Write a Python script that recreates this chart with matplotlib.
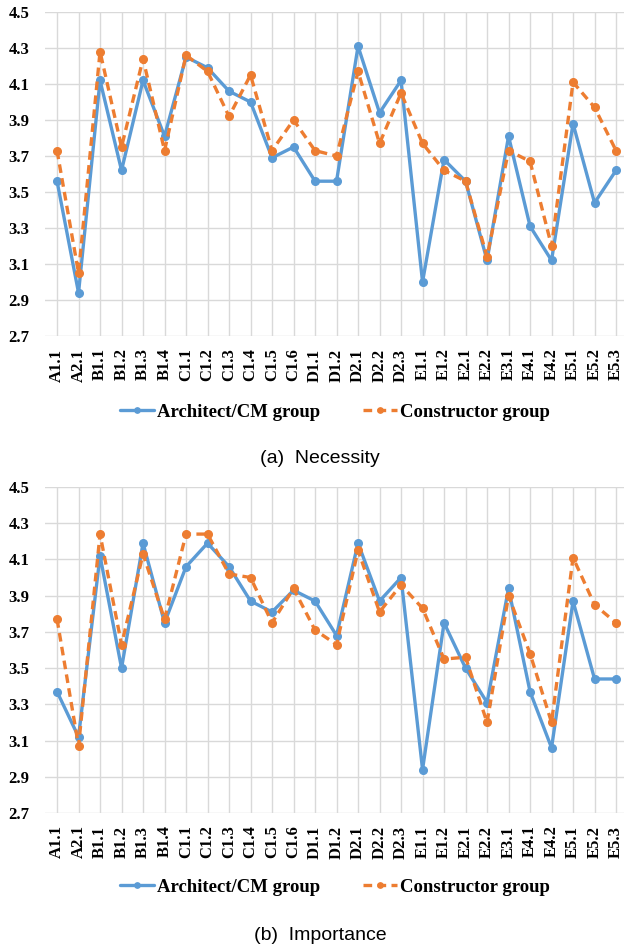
import numpy as np
import matplotlib
matplotlib.use("Agg")
import matplotlib.pyplot as plt

labels = ["A1.1", "A2.1", "B1.1", "B1.2", "B1.3", "B1.4", "C1.1", "C1.2", "C1.3",
          "C1.4", "C1.5", "C1.6", "D1.1", "D1.2", "D2.1", "D2.2", "D2.3", "E1.1",
          "E1.2", "E2.1", "E2.2", "E3.1", "E4.1", "E4.2", "E5.1", "E5.2", "E5.3"]

# (a) Necessity
nec_arch = [3.56, 2.94, 4.12, 3.62, 4.12, 3.81, 4.25, 4.19, 4.06, 4.00, 3.69, 3.75, 3.56,
            3.56, 4.31, 3.94, 4.12, 3.00, 3.68, 3.56, 3.12, 3.81, 3.31, 3.12, 3.88, 3.44, 3.62]
nec_cons = [3.73, 3.05, 4.28, 3.75, 4.24, 3.73, 4.26, 4.17, 3.92, 4.15, 3.73, 3.90, 3.73,
            3.70, 4.17, 3.77, 4.05, 3.77, 3.62, 3.56, 3.14, 3.73, 3.67, 3.20, 4.11, 3.97, 3.73]

# (b) Importance
imp_arch = [3.37, 3.12, 4.12, 3.50, 4.19, 3.75, 4.06, 4.19, 4.06, 3.87, 3.81, 3.93, 3.87,
            3.68, 4.19, 3.87, 4.00, 2.94, 3.75, 3.50, 3.31, 3.94, 3.37, 3.06, 3.87, 3.44, 3.44]
imp_cons = [3.77, 3.07, 4.24, 3.63, 4.13, 3.77, 4.24, 4.24, 4.02, 4.00, 3.75, 3.94, 3.71,
            3.63, 4.15, 3.81, 3.96, 3.83, 3.55, 3.56, 3.20, 3.90, 3.58, 3.20, 4.11, 3.85, 3.75]

yticks = [2.7, 2.9, 3.1, 3.3, 3.5, 3.7, 3.9, 4.1, 4.3, 4.5]

W, H = 624, 947
fig = plt.figure(figsize=(W / 100, H / 100), dpi=100)

serif = ["Liberation Serif", "DejaVu Serif"]
sans = ["Liberation Sans", "DejaVu Sans"]
blue = "#5B9BD5"
orange = "#ED7D31"
x = np.arange(len(labels))


def panel(top_px, bot_px, arch, cons, legend_y, caption_y, caption):
    ax = fig.add_axes([45 / W, 1 - bot_px / H, 579 / W, (bot_px - top_px) / H])
    ax.plot(x, arch, color=blue, lw=2.4, marker="o", ms=5.5, label="Architect/CM group",
            solid_capstyle="round")
    ax.plot(x, cons, color=orange, lw=2.4, marker="o", ms=5.5, label="Constructor group",
            linestyle=(0, (2.6, 1.6)))
    ax.set_xlim(-0.56, 26.37)
    ax.set_ylim(2.7, 4.5)
    ax.set_yticks(yticks)
    ax.set_yticklabels(["%.1f" % v for v in yticks], family=serif, fontsize=12,
                       fontweight="bold")
    ax.set_xticks(x)
    ax.set_xticklabels(labels, rotation=90, family=serif, fontsize=12, fontweight="bold")
    ax.tick_params(axis="both", length=0)
    ax.tick_params(axis="y", pad=11)
    ax.tick_params(axis="x", pad=9)
    ax.grid(True, color="#D9D9D9", lw=1)
    ax.set_axisbelow(True)
    for s in ax.spines.values():
        s.set_visible(False)
    fig.legend(*ax.get_legend_handles_labels(), loc="center",
               bbox_to_anchor=(335 / W, 1 - legend_y / H), ncol=2, frameon=False,
               prop={"family": serif, "weight": "bold", "size": 13.5},
               handlelength=1.8, handletextpad=0.15, columnspacing=2.3,
               numpoints=1, markerscale=0.7)
    fig.text(320 / W, 1 - caption_y / H, caption, ha="center", va="center",
             family=sans, fontsize=14)
    return ax


panel(12, 336, nec_arch, nec_cons, 412, 458, "(a)  Necessity")
panel(487, 813, imp_arch, imp_cons, 887, 935, "(b)  Importance")

fig.savefig("out.png", dpi=100)
